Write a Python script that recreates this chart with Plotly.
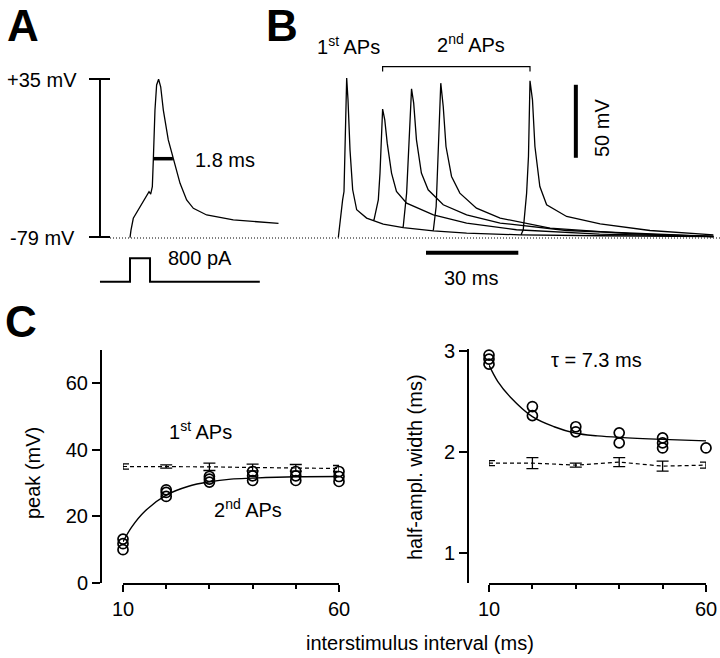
import plotly.graph_objects as go

W, H = 720, 658
FONT = "Liberation Sans, Arial, sans-serif"

# ---------------- Panel A : single AP (ms, mV) ----------------
a_t = [0, 0.09, 0.3, 0.91, 1.52, 1.73, 1.88, 2.03, 2.12, 2.27, 2.42, 2.6, 2.79, 3.03,
       3.48, 3.94, 4.55, 5.15, 5.76, 6.97, 9.39, 13.5]
a_v = [-79.5, -74, -65.5, -57, -48.7, -46.3, -48, -42.7, -23.4, 12.6, 30.7, 34.8, 29.4, 12.6,
       -9, -23.4, -40.3, -52.3, -58.3, -63.1, -66.7, -69.1]
hw_t = [2.1, 3.9]          # half-amplitude width 1.8 ms
hw_v = [-22.5, -22.5]
stim_t = [-2.73, 0, 0, 1.82, 1.82, 11.8]   # current step (ms)
stim_i = [0, 0, 800, 800, 0, 0]            # pA
a_scale_v = [35, -79]

# ---------------- Panel B : paired APs (ms, mV) ----------------
b1_t = [0.1, 0.65, 1.5, 1.95, 2.38, 2.82, 3.25, 3.9, 4.77, 6.07, 9.3, 14.7, 21.2, 31, 41.8, 59.2, 85, 122]
b1_v = [-79, -66.9, -53.2, -47.5, -7.5, 30.2, 15.3, -19, -46.3, -60, -65.7, -69.8, -72.2, -74.4, -76, -77.2, -77.8, -78.3]

b10_t = [11.4, 11.7, 13.1, 13.65, 14.5, 15.2, 16, 17.4, 19, 22.3, 31, 41.8, 58, 85, 122]
b10_v = [-67.4, -66.9, -53.2, -34.9, 9, 1.6, -14.4, -34.9, -47.5, -55.5, -63.5, -69.1, -73.7, -76.7, -78.3]

b20_t = [21.0, 21.2, 22.3, 22.8, 23.9, 24.6, 25.5, 27.1, 29.3, 34.2, 41.8, 52.7, 74.3, 122]
b20_v = [-72.2, -71.5, -48.6, -23.5, 22.8, 13, -12.1, -34.9, -46.3, -56.6, -63.5, -69.1, -74.2, -78.3]

b30_t = [30.8, 31, 31.9, 32.4, 33.4, 34.2, 35.1, 36.9, 39.6, 45, 52.7, 68.9, 96, 122]
b30_v = [-74.4, -73.7, -57.8, -25.8, 26.7, 10.7, -16.7, -37.2, -48.6, -58.9, -65.7, -72.6, -76.5, -78.3]

b60_t = [59.5, 60.2, 61.3, 61.9, 62.4, 63.2, 64, 65.6, 67.8, 74.3, 85.2, 101.4, 122]
b60_v = [-77.2, -73.7, -48.6, -23.5, 28.3, 15.3, -16.7, -44.1, -56.6, -64.6, -69.6, -74.2, -77.2]

# ---------------- Panel C : interstimulus interval ----------------
isi = [10, 20, 30, 40, 50, 60]
# peak amplitude (mV) of 2nd APs, individual cells
peak_x = [10, 10, 10, 20, 20, 20, 30, 30, 30, 40, 40, 40, 50, 50, 50, 60, 60, 60]
peak_y = [13.2, 11.8, 10.0, 28.0, 27.2, 26.0, 32.0, 31.2, 30.3, 33.5, 32.2, 30.8, 33.5, 32.2, 30.8, 33.5, 32.0, 30.5]
# 1st APs peak mean +- sem
peak1_mean = [35.0, 35.0, 34.9, 34.7, 34.6, 34.4]
peak1_err = [0.8, 0.5, 1.1, 1.0, 1.0, 0.9]
# exponential fit
peakfit_x = [10, 12, 15, 20, 25, 30, 35, 40, 50, 60]
peakfit_y = [12.4, 16.8, 21.5, 26.4, 29.0, 30.4, 31.2, 31.5, 31.9, 32.0]

# half-amplitude width (ms) of 2nd APs
width_x = [10, 10, 10, 20, 20, 30, 30, 40, 40, 50, 50, 50, 60]
width_y = [2.96, 2.92, 2.87, 2.45, 2.36, 2.25, 2.20, 2.19, 2.09, 2.14, 2.09, 2.04, 2.04]
width1_mean = [1.89, 1.89, 1.87, 1.90, 1.86, 1.87]
width1_err = [0.025, 0.055, 0.02, 0.045, 0.05, 0.03]
widthfit_x = [10, 12, 15, 20, 25, 30, 35, 40, 50, 60]
widthfit_y = [2.86, 2.70, 2.54, 2.35, 2.25, 2.185, 2.16, 2.145, 2.125, 2.11]


def xdom(p0, p1):
    return [p0 / W, p1 / W]


def ydom(p_top, p_bot):
    return [1 - p_bot / H, 1 - p_top / H]


def xrng(p0, p1, v_ref, p_ref, s):
    return [v_ref + (p0 - p_ref) / s, v_ref + (p1 - p_ref) / s]


def yrng(p_top, p_bot, v_ref, p_ref, s):
    return [v_ref + (p_ref - p_bot) / s, v_ref + (p_ref - p_top) / s]


fig = go.Figure()
LW = 1.3
blk = "black"

# --- Panel A traces
fig.add_trace(go.Scatter(x=a_t, y=a_v, xaxis="x3", yaxis="y3", mode="lines",
                         line=dict(color=blk, width=LW)))
fig.add_trace(go.Scatter(x=hw_t, y=hw_v, xaxis="x3", yaxis="y3", mode="lines",
                         line=dict(color=blk, width=3.5)))
fig.add_trace(go.Scatter(x=stim_t, y=stim_i, xaxis="x3", yaxis="y5", mode="lines",
                         line=dict(color=blk, width=2)))
# A calibration bar
fig.add_trace(go.Scatter(x=[-2.73, -2.73], y=a_scale_v, xaxis="x3", yaxis="y3", mode="lines",
                         line=dict(color=blk, width=2)))
for v in a_scale_v:
    fig.add_trace(go.Scatter(x=[-3.73, -1.82], y=[v, v], xaxis="x3", yaxis="y3", mode="lines",
                             line=dict(color=blk, width=2)))

# --- Panel B traces
for tt, vv in [(b1_t, b1_v), (b10_t, b10_v), (b20_t, b20_v), (b30_t, b30_v), (b60_t, b60_v)]:
    fig.add_trace(go.Scatter(x=tt, y=vv, xaxis="x4", yaxis="y4", mode="lines",
                             line=dict(color=blk, width=LW)))
# bracket over 2nd APs
fig.add_trace(go.Scatter(x=[14.5, 14.5, 62.4, 62.4], y=[34.7, 38.1, 38.1, 34.7], xaxis="x4", yaxis="y4",
                         mode="lines", line=dict(color=blk, width=1.2)))
# scale bars
fig.add_trace(go.Scatter(x=[77.3, 77.3], y=[-24.4, 25.6], xaxis="x4", yaxis="y4", mode="lines",
                         line=dict(color=blk, width=4)))
fig.add_trace(go.Scatter(x=[28.6, 58.6], y=[-89.5, -89.5], xaxis="x4", yaxis="y4", mode="lines",
                         line=dict(color=blk, width=4)))

# --- Panel C left
fig.add_trace(go.Scatter(x=isi, y=peak1_mean, xaxis="x", yaxis="y", mode="lines",
                         line=dict(color=blk, width=1.2, dash="4px,3px"), cliponaxis=False,
                         error_y=dict(type="data", array=peak1_err, width=6, thickness=1.3, color=blk)))
fig.add_trace(go.Scatter(x=peakfit_x, y=peakfit_y, xaxis="x", yaxis="y", mode="lines",
                         line=dict(color=blk, width=1.4, shape="spline")))
fig.add_trace(go.Scatter(x=peak_x, y=peak_y, xaxis="x", yaxis="y", mode="markers", cliponaxis=False,
                         marker=dict(symbol="circle-open", size=10, color=blk, line=dict(width=1.7))))

# --- Panel C right
fig.add_trace(go.Scatter(x=isi, y=width1_mean, xaxis="x2", yaxis="y2", mode="lines",
                         line=dict(color=blk, width=1.2, dash="4px,3px"), cliponaxis=False,
                         error_y=dict(type="data", array=width1_err, width=6, thickness=1.3, color=blk)))
fig.add_trace(go.Scatter(x=widthfit_x, y=widthfit_y, xaxis="x2", yaxis="y2", mode="lines",
                         line=dict(color=blk, width=1.4, shape="spline")))
fig.add_trace(go.Scatter(x=width_x, y=width_y, xaxis="x2", yaxis="y2", mode="markers", cliponaxis=False,
                         marker=dict(symbol="circle-open", size=10, color=blk, line=dict(width=1.7))))

tickfont = dict(family=FONT, size=20, color=blk)
common_x = dict(range=[10, 60], tickvals=[10, 60], ticks="outside", ticklen=7, tickwidth=2,
                showline=True, linewidth=2, linecolor=blk, tickcolor=blk, showgrid=False,
                zeroline=False, tickfont=tickfont, automargin=False,
                minor=dict(tickvals=[20, 30, 40, 50], ticks="outside", ticklen=4, tickwidth=2,
                           tickcolor=blk, showgrid=False))
common_y = dict(ticks="outside", ticklen=8, tickwidth=2, showline=True, linewidth=2, linecolor=blk,
                tickcolor=blk, showgrid=False, zeroline=False, tickfont=tickfont, anchor="free",
                automargin=False)
hidden = dict(visible=False, showgrid=False, zeroline=False, automargin=False)

fig.update_layout(
    template="none",
    width=W, height=H, autosize=False,
    margin=dict(l=0, r=0, t=0, b=0, pad=0, autoexpand=False),
    paper_bgcolor="white", plot_bgcolor="white",
    showlegend=False,
    font=dict(family=FONT, size=20, color=blk),
    xaxis=dict(domain=xdom(123, 339), anchor="y", **common_x),
    yaxis=dict(domain=ydom(350, 583), range=[0, 70], position=101 / W,
               tickvals=[0, 20, 40, 60], **common_y),
    xaxis2=dict(domain=xdom(489, 706), anchor="y2", **common_x),
    yaxis2=dict(domain=ydom(349, 583), range=yrng(349, 583, 2, 452, 101), position=468 / W,
                tickvals=[1, 2, 3], **common_y),
    xaxis3=dict(domain=xdom(80, 318), range=xrng(80, 318, 0, 130, 11), anchor="y3", **hidden),
    yaxis3=dict(domain=ydom(55, 246), range=yrng(55, 246, -79, 237, 1.386), anchor="x3", **hidden),
    yaxis5=dict(domain=ydom(248, 296), range=yrng(248, 296, 0, 281.7, 23.4 / 800), anchor="x3", **hidden),
    xaxis4=dict(domain=xdom(320, 720), range=xrng(320, 720, 0, 338, 3.077), anchor="y4", **hidden),
    yaxis4=dict(domain=ydom(40, 300), range=yrng(40, 300, -79, 237.5, 1.46), anchor="x4", **hidden),
)

# dotted resting-potential line across A and B
fig.add_shape(type="line", xref="paper", yref="paper", x0=110 / W, x1=1, y0=1 - 238 / H, y1=1 - 238 / H,
              line=dict(color=blk, width=1, dash="1px,2px"))


def ann(text, px, py, size=20, bold=False, angle=0, xanchor="center"):
    fig.add_annotation(text=("<b>%s</b>" % text) if bold else text, x=px / W, y=1 - py / H,
                       xref="paper", yref="paper", showarrow=False, xanchor=xanchor, yanchor="middle",
                       textangle=angle, font=dict(family=FONT, size=size, color=blk))


ann("A", 23, 25, size=44, bold=True)
ann("B", 282, 25, size=44, bold=True)
ann("C", 21, 321, size=44, bold=True)

ann("+35 mV", 79, 80, xanchor="right")
ann("-79 mV", 77, 238, xanchor="right")
ann("1.8 ms", 225, 160)
ann("800 pA", 200, 258)

ann("1<sup>st</sup> APs", 348, 45)
ann("2<sup>nd</sup> APs", 471, 44)
ann("50 mV", 602, 128, angle=-90)
ann("30 ms", 471, 278)

ann("1<sup>st</sup> APs", 200, 430)
ann("2<sup>nd</sup> APs", 248, 508)
ann("peak (mV)", 33, 473, angle=-90)
ann("τ = 7.3 ms", 596, 360)
ann("half-ampl. width (ms)", 415, 467, angle=-90)
ann("interstimulus interval (ms)", 420, 643)

fig.write_html("out.html", config={"displayModeBar": False},
               post_script="document.body.style.margin='0px';document.body.style.overflow='hidden';")
